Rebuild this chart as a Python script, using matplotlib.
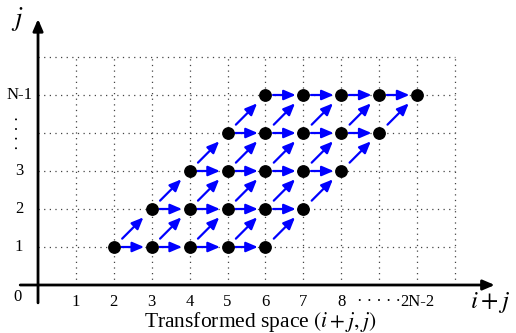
import matplotlib
matplotlib.use("Agg")
import matplotlib.pyplot as plt
from matplotlib.patches import FancyArrowPatch

# ---- data ----
j_levels = [1, 2, 3, 4, 5]
row_first = [2, 3, 4, 5, 6]     # first i+j in each row
row_last = [6, 7, 8, 9, 10]     # last i+j in each row
x_tick_pos = [1, 2, 3, 4, 5, 6, 7, 8, 10]
x_tick_labels = ["1", "2", "3", "4", "5", "6", "7", "8", "2N-2"]
y_tick_pos = [1, 2, 3, 5]
y_tick_labels = ["1", "2", "3", "N-1"]
grid_x = list(range(1, 12))
grid_y = list(range(1, 7))

plt.rcParams["font.family"] = ["Liberation Serif", "DejaVu Serif"]
plt.rcParams["mathtext.fontset"] = "stix"

fig = plt.figure(figsize=(5.16, 3.33), dpi=100)
ax = fig.add_axes([0, 0, 1, 1])
ax.set_xlim(-1.003, 12.61)
ax.set_ylim(-1.263, 7.5)
ax.axis("off")

# grid
gstyle = dict(color="#444444", lw=0.9, ls=(0, (1, 3.5)), zorder=1)
for gx in grid_x:
    ax.plot([gx, gx], [0, grid_y[-1]], **gstyle)
for gy in grid_y:
    ax.plot([0, grid_x[-1]], [gy, gy], **gstyle)

# axes with arrows
ax.add_patch(FancyArrowPatch((-0.47, 0), (12.05, 0), arrowstyle="-|>,head_length=0.7,head_width=0.3",
                             mutation_scale=10, lw=2.0, color="black", zorder=3, shrinkA=0, shrinkB=0))
ax.add_patch(FancyArrowPatch((0, -0.47), (0, 7.0), arrowstyle="-|>,head_length=0.7,head_width=0.3",
                             mutation_scale=10, lw=2.0, color="black", zorder=3, shrinkA=0, shrinkB=0))

# arrows
astyle = "-|>,head_length=0.7,head_width=0.3"
blue = "#0000ff"
for k, j in enumerate(j_levels):
    cols = list(range(row_first[k], row_last[k] + 1))
    for a, b in zip(cols[:-1], cols[1:]):
        ax.add_patch(FancyArrowPatch((a, j), (b, j), arrowstyle=astyle, mutation_scale=10,
                                     lw=1.6, color=blue, shrinkA=5.5, shrinkB=5.5, zorder=4))
    if k + 1 < len(j_levels):
        for a in cols:
            ax.add_patch(FancyArrowPatch((a, j), (a + 1, j + 1), arrowstyle=astyle, mutation_scale=10,
                                         lw=1.6, color=blue, shrinkA=8.5, shrinkB=8.5, zorder=4))

# dots
for k, j in enumerate(j_levels):
    cols = list(range(row_first[k], row_last[k] + 1))
    ax.plot(cols, [j] * len(cols), "o", color="black", ms=8.2, zorder=5)

# tick labels
for p, lab in zip(x_tick_pos, x_tick_labels):
    ax.text(p, -0.45, lab, ha="center", va="center", fontsize=12)
ax.text(9.0, -0.45, "· · · · ·", ha="center", va="center", fontsize=12)
for p, lab in zip(y_tick_pos, y_tick_labels):
    ax.text(-0.5, p, lab, ha="center", va="center", fontsize=12)
ax.text(-0.5, 4.0, "· · · ·", ha="center", va="center", fontsize=12, rotation=90)
ax.text(-0.55, -0.32, "0", ha="center", va="center", fontsize=12)

# axis titles
ax.text(-0.55, 7.0, r"$j$", ha="center", va="center", fontsize=19)
ax.text(11.92, -0.45, r"$i+j$", ha="center", va="center", fontsize=18)
ax.text(5.86, -0.97, r"Transformed space $(i+j,j)$", ha="center", va="center", fontsize=15.5)

fig.savefig("out.png", dpi=100)
